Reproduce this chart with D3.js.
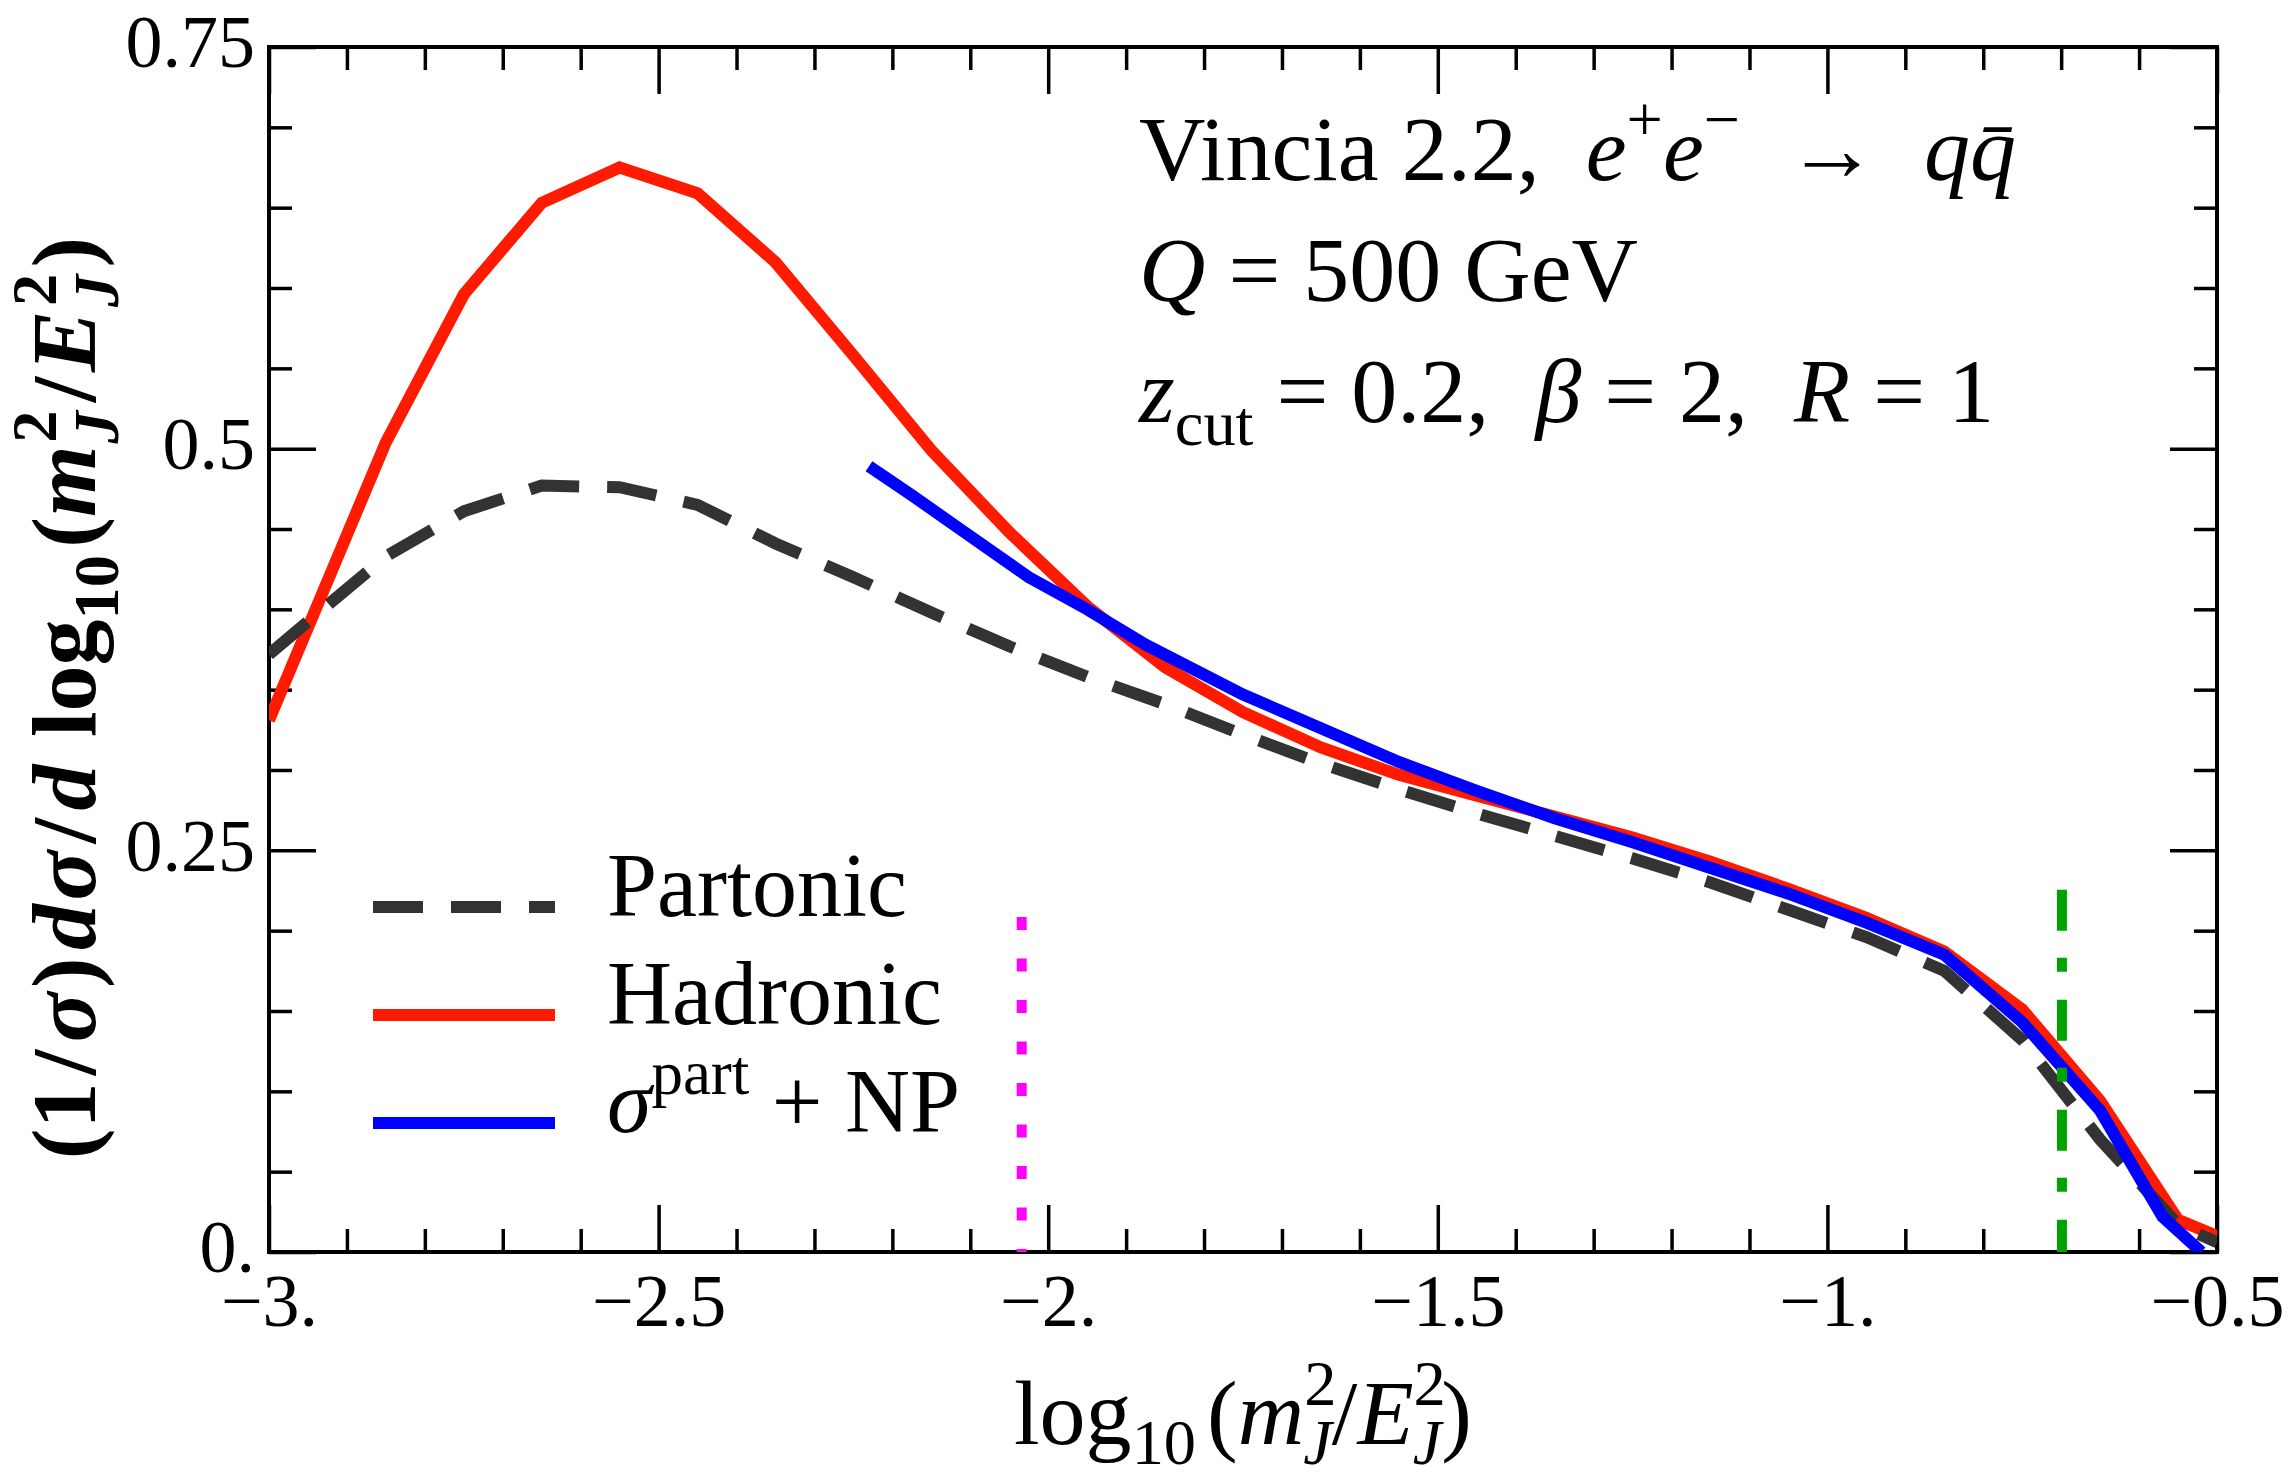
<!DOCTYPE html>
<html>
<head>
<meta charset="utf-8">
<script src="https://cdn.jsdelivr.net/npm/d3@7"></script>
<style>
    body { margin: 0; background: #fff; }
    #chart-area { width: 2292px; height: 1482px; }
    text { font-family: "Liberation Serif", "Times New Roman", serif; fill: #000; white-space: pre; }
    .axis text { font-family: "Liberation Serif", "Times New Roman", serif; font-size: 74px; }
</style>
</head>
<body>
<div id="chart-area"></div>
<script>

// log10(m_J^2/E_J^2) bin positions shared by partonic and hadronic
const xBins = [-3.0, -2.85, -2.75, -2.65, -2.55, -2.45, -2.35, -2.25, -2.15, -2.05, -1.95, -1.85, -1.75,
    -1.65, -1.55, -1.45, -1.35, -1.25, -1.15, -1.05, -0.95, -0.85, -0.75, -0.65, -0.55, -0.5];
const partonic = [0.372, 0.433, 0.461, 0.477, 0.476, 0.465, 0.441, 0.420, 0.398, 0.377, 0.358, 0.341, 0.322,
    0.304, 0.288, 0.273, 0.259, 0.245, 0.230, 0.213, 0.196, 0.175, 0.132, 0.070, 0.017, 0.006];
const hadronic = [0.331, 0.504, 0.596, 0.653, 0.675, 0.659, 0.616, 0.558, 0.499, 0.448, 0.402, 0.364, 0.336,
    0.314, 0.297, 0.284, 0.271, 0.258, 0.243, 0.226, 0.208, 0.187, 0.151, 0.094, 0.020, 0.010];

// sigma^part + NP, only shown above the NP onset
const xNp = [-2.23, -2.175, -2.125, -2.025, -1.95, -1.875, -1.75, -1.65, -1.55, -1.45, -1.35, -1.25,
    -1.15, -1.05, -0.95, -0.85, -0.75, -0.65, -0.57, -0.52];
const partNp = [0.489, 0.471, 0.454, 0.420, 0.400, 0.378, 0.347, 0.326, 0.305, 0.287, 0.270, 0.255,
    0.239, 0.223, 0.205, 0.185, 0.143, 0.088, 0.022, 0.0];

// tick values and labels
const xMajor = [-3, -2.5, -2, -1.5, -1, -0.5];
const xLabels = ["\u22123.", "\u22122.5", "\u22122.", "\u22121.5", "\u22121.", "\u22120.5"];
const yMajor = [0, 0.25, 0.5, 0.75];
const yLabels = ["0.", "0.25", "0.5", "0.75"];

// vertical markers: NP onset (magenta) and log10(zcut) (green)
const markerX = [-2.034, -0.699];
const markerTop = [0.2085, 0.2254];


class JetMassVis {

    constructor(parentElement) {
        this.parentElement = parentElement;
        this.initVis();
    }

    initVis() {
        let vis = this;
        vis.margin = {top: 47, right: 75, bottom: 230, left: 269};
        vis.width = 2292 - vis.margin.left - vis.margin.right;
        vis.height = 1482 - vis.margin.top - vis.margin.bottom;

        vis.svg = d3.select("#" + vis.parentElement).append("svg")
            .attr("width", 2292)
            .attr("height", 1482);

        vis.chart = vis.svg.append("g")
            .attr("transform", `translate(${vis.margin.left}, ${vis.margin.top})`);

        vis.x = d3.scaleLinear().domain([-3, -0.5]).range([0, vis.width]);
        vis.y = d3.scaleLinear().domain([0, 0.75]).range([vis.height, 0]);

        // clip curves to the frame
        vis.svg.append("defs").append("clipPath")
            .attr("id", "plot-clip")
            .append("rect")
            .attr("width", vis.width)
            .attr("height", vis.height);

        vis.drawAxes();
        vis.drawCurves();
        vis.drawLegend();
        vis.drawLabels();
    }

    drawAxes() {
        let vis = this;
        let minorX = d3.range(0, 26).map(i => -3 + i * 0.1)
            .filter(v => !xMajor.some(m => Math.abs(m - v) < 1e-6));
        let minorY = d3.range(0, 16).map(i => i * 0.05)
            .filter(v => !yMajor.some(m => Math.abs(m - v) < 1e-6));

        // ticks point inward on all four sides
        let sides = [
            {axis: d3.axisBottom(vis.x), at: `translate(0,${vis.height})`, major: xMajor, minor: minorX, labels: xLabels, bottom: true},
            {axis: d3.axisTop(vis.x), at: "translate(0,0)", major: xMajor, minor: minorX},
            {axis: d3.axisLeft(vis.y), at: "translate(0,0)", major: yMajor, minor: minorY, labels: yLabels},
            {axis: d3.axisRight(vis.y), at: `translate(${vis.width},0)`, major: yMajor, minor: minorY}
        ];

        sides.forEach(s => {
            let gMajor = vis.chart.append("g")
                .attr("class", "axis")
                .attr("transform", s.at)
                .call(s.axis.tickValues(s.major).tickSize(-47).tickPadding(14)
                    .tickFormat((d, i) => s.labels ? s.labels[i] : ""));
            gMajor.select(".domain").remove();
            gMajor.selectAll("line").attr("stroke", "#000").attr("stroke-width", 3.5);

            // x labels sit lower, y labels a bit higher than d3 default
            if (s.bottom) {
                gMajor.selectAll("text").attr("y", 74).attr("dy", null);
            } else if (s.labels) {
                gMajor.selectAll("text").attr("dy", "0.27em");
            }

            let gMinor = vis.chart.append("g")
                .attr("transform", s.at)
                .call(s.axis.tickValues(s.minor).tickSize(-23).tickFormat(""));
            gMinor.select(".domain").remove();
            gMinor.selectAll("line").attr("stroke", "#000").attr("stroke-width", 3.5);
        });

        // frame
        vis.chart.append("rect")
            .attr("width", vis.width)
            .attr("height", vis.height)
            .attr("fill", "none")
            .attr("stroke", "#000")
            .attr("stroke-width", 4);
    }

    drawCurves() {
        let vis = this;
        vis.line = d3.line()
            .x(d => vis.x(d[0]))
            .y(d => vis.y(d[1]));

        vis.series = [
            {xs: xBins, ys: hadronic, color: "#ff1a00", dash: null},
            {xs: xBins, ys: partonic, color: "#333333", dash: "50,28"},
            {xs: xNp, ys: partNp, color: "#0000ff", dash: null}
        ];

        let curves = vis.chart.append("g").attr("clip-path", "url(#plot-clip)");
        vis.series.forEach(s => {
            curves.append("path")
                .datum(d3.zip(s.xs, s.ys))
                .attr("d", vis.line)
                .attr("fill", "none")
                .attr("stroke", s.color)
                .attr("stroke-width", 12)
                .attr("stroke-linejoin", "miter")
                .attr("stroke-dasharray", s.dash);
        });

        let markerStyle = [
            {color: "#ff00ff", dash: "13,28.5"},
            {color: "#00a300", dash: "41,27,14,28"}
        ];
        markerX.forEach((mx, i) => {
            vis.chart.append("line")
                .attr("x1", vis.x(mx))
                .attr("x2", vis.x(mx))
                .attr("y1", vis.y(markerTop[i]))
                .attr("y2", vis.y(0))
                .attr("stroke", markerStyle[i].color)
                .attr("stroke-width", 10)
                .attr("stroke-dasharray", markerStyle[i].dash);
        });
    }

    // text with italic / super / subscript pieces
    rich(sel, parts, size, subShift = 0.25) {
        let shift = 0;
        parts.forEach(p => {
            let target = p.s === "sup" ? -0.42 * size : (p.s === "sub" ? subShift * size : 0);
            let ts = sel.append("tspan").text(p.t).attr("dy", target - shift);
            shift = target;
            if (p.i) ts.style("font-style", "italic");
            if (p.s) ts.style("font-size", (0.7 * size) + "px");
            if (p.dx) ts.attr("dx", p.dx * size);
        });
        return sel;
    }

    drawLegend() {
        let vis = this;
        let labels = [
            [{t: "Partonic"}],
            [{t: "Hadronic"}],
            [{t: "\u03c3", i: 1}, {t: "part", s: "sup"}, {t: " + NP"}]
        ];
        let order = [1, 0, 2];
        let legend = vis.chart.append("g")
            .attr("transform", `translate(${104}, ${860})`);

        order.forEach((si, row) => {
            let s = vis.series[si];
            legend.append("line")
                .attr("x1", 0)
                .attr("x2", 182)
                .attr("y1", row * 108)
                .attr("y2", row * 108)
                .attr("stroke", s.color)
                .attr("stroke-width", 12)
                .attr("stroke-dasharray", s.dash);
            let t = legend.append("text")
                .attr("x", 234)
                .attr("y", row * 108 + 9)
                .style("font-size", "90px");
            vis.rich(t, labels[row], 90);
        });
    }

    drawLabels() {
        let vis = this;

        // annotation block, top right
        let lines = [
            [{t: "Vincia 2.2,  "}, {t: "e", i: 1}, {t: "+", s: "sup"}, {t: "e", i: 1}, {t: "\u2212", s: "sup"},
                {t: "  \u2192  "}, {t: "q", i: 1}, {t: "q\u0304", i: 1}],
            [{t: "Q", i: 1}, {t: " = 500 GeV"}],
            [{t: "z", i: 1}, {t: "cut", s: "sub"}, {t: " = 0.2,  "}, {t: "\u03b2", i: 1}, {t: " = 2,  "},
                {t: "R", i: 1}, {t: " = 1"}]
        ];
        lines.forEach((parts, i) => {
            let t = vis.svg.append("text")
                .attr("x", 1139)
                .attr("y", 180 + i * 121)
                .style("font-size", "92px");
            vis.rich(t, parts, 92);
        });

        // x axis title
        let xt = vis.svg.append("text")
            .attr("x", vis.margin.left + vis.width / 2)
            .attr("y", 1444)
            .attr("text-anchor", "middle")
            .style("font-size", "92px");
        vis.rich(xt, [{t: "log"}, {t: "10", s: "sub"}, {t: "(", dx: 0.12}, {t: "m", i: 1}, {t: "2", s: "sup"},
            {t: "J", s: "sub", i: 1, dx: -0.36}, {t: "/"}, {t: "E", i: 1}, {t: "2", s: "sup"},
            {t: "J", s: "sub", i: 1, dx: -0.36}, {t: ")"}], 92, 0.22);

        // y axis title
        let yt = vis.svg.append("text")
            .attr("transform", "translate(95, 698) rotate(-90)")
            .attr("text-anchor", "middle")
            .style("font-size", "92px")
            .style("font-weight", "bold");
        vis.rich(yt, [{t: "(1"}, {t: "/", dx: 0.08}, {t: "\u03c3", i: 1, dx: 0.08}, {t: ")", dx: 0.05},
            {t: "d", i: 1, dx: 0.08}, {t: "\u03c3", i: 1, dx: 0.04}, {t: "/", dx: 0.08}, {t: "d", i: 1, dx: 0.08},
            {t: " log", dx: 0.05}, {t: "10", s: "sub"}, {t: "(", dx: 0.08}, {t: "m", i: 1},
            {t: "2", s: "sup", dx: 0.03}, {t: "J", s: "sub", i: 1, dx: -0.36}, {t: "/", dx: 0.1},
            {t: "E", i: 1, dx: 0.05}, {t: "2", s: "sup", dx: 0.05}, {t: "J", s: "sub", i: 1, dx: -0.36},
            {t: ")", dx: 0.08}], 92);
    }
}

new JetMassVis("chart-area");
</script>
</body>
</html>
